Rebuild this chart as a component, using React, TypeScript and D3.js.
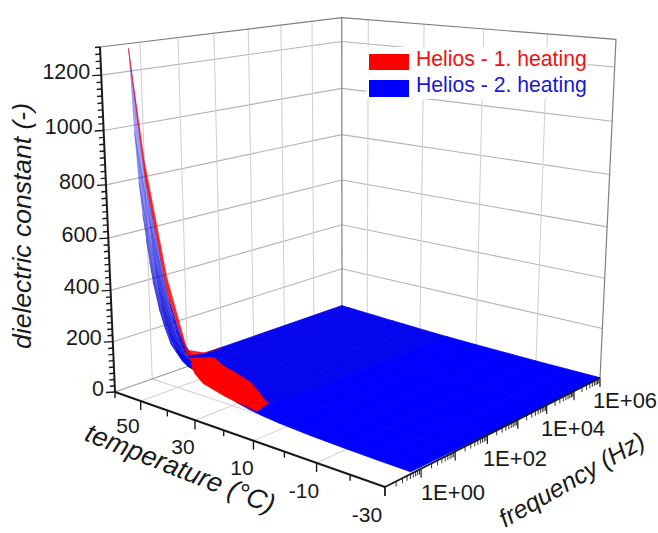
import React from 'react';
import * as d3 from 'd3';

const WIDTH = 658;
const HEIGHT = 533;

// axis ranges
const tempDomain = [60, -30];
const freqDomain = [-1, 6];
const epsDomain = [0, 1300];

const tempTicks = [60, 50, 40, 30, 20, 10, 0, -10, -20, -30];
const tempLabels = [
  { t: 50, text: '50', x: 128, y: 433 },
  { t: 30, text: '30', x: 183, y: 454 },
  { t: 10, text: '10', x: 242, y: 475 },
  { t: -10, text: '-10', x: 304, y: 498 },
  { t: -30, text: '-30', x: 367, y: 522 },
];
const freqLabels = [
  { text: '1E+00', x: 453, y: 500 },
  { text: '1E+02', x: 515, y: 466 },
  { text: '1E+04', x: 573, y: 436 },
  { text: '1E+06', x: 625, y: 408 },
];
const epsLabels = [0, 200, 400, 600, 800, 1000, 1200];

// second heating surface
const gridFreq = [-0.3, 0, 0.5, 1, 1.5, 2, 4, 6];
const gridTemp = [60, 59, 58, 57, 56, 55, 54, 52, 50, 48, 46, 43, 40, 36, 32, 28, 24, 20, 15, 10, 0, -10, -20, -30];
const heating2 = [
  [1280, 800, 320, 45, 30, 30, 30, 30],
  [980, 640, 260, 44, 30, 29, 29, 29],
  [790, 500, 210, 42, 29, 28, 28, 28],
  [670, 410, 170, 41, 28, 28, 28, 28],
  [580, 340, 140, 40, 28, 27, 27, 27],
  [495, 285, 118, 39, 28, 27, 27, 27],
  [420, 240, 100, 38, 27, 26, 26, 26],
  [320, 180, 78, 36, 26, 25, 25, 25],
  [250, 140, 64, 34, 25, 24, 24, 24],
  [195, 112, 56, 32, 24, 23, 23, 23],
  [175, 98, 50, 30, 23, 22, 22, 22],
  [165, 88, 46, 28, 22, 21, 20, 20],
  [150, 78, 42, 26, 21, 20, 19, 19],
  [110, 64, 36, 24, 20, 19, 18, 17],
  [85, 54, 32, 22, 19, 18, 16, 15],
  [65, 44, 28, 20, 17, 16, 14, 13],
  [48, 36, 24, 18, 15, 14, 12, 11],
  [38, 30, 21, 16, 14, 13, 11, 10],
  [30, 24, 18, 14, 12, 11, 9, 8],
  [24, 20, 15, 12, 10, 9, 8, 7],
  [17, 14, 11, 9, 8, 7, 6, 5],
  [13, 11, 9, 8, 7, 6, 4, 3],
  [10, 9, 8, 6, 5, 4, 3, 2],
  [8, 7, 6, 5, 4, 3, 2, 1],
];

// first heating: the part that stays above the second one
const ridgeFreq = [-0.3, 0, 0.5, 1, 1.5, 2];
const ridgeHeating1 = [1285, 860, 385, 68, 32, 30];
const blobTemp = [60, 57, 50, 44, 37, 30, 26, 22, 19];
const blobFreqStart = [1.05, 0.9, 0.4, 0.05, -0.25, -0.22, -0.2, -0.2, -0.2];
const blobFreqEnd = [1.1, 1.55, 1.3, 1.2, 1.05, 0.75, 0.55, 0.38, -0.18];
const blobEpsStart = [32, 36, 60, 72, 75, 50, 40, 36, 30];
const blobEpsEnd = [30, 20, 20, 17, 13, 14, 15, 18, 30];

// box corners on the page, used to fit the perspective
const cornerA = [115, 392];
const cornerB = [385, 487];
const cornerC = [600, 378];
const cornerD = [342, 312];
const topA = [100, 47];
const topCx = 616;

const tempScale = d3.scaleLinear().domain(tempDomain).range([0, 1]);
const freqScale = d3.scaleLinear().domain(freqDomain).range([0, 1]);
const epsScale = d3.scaleLinear().domain(epsDomain).range([0, 1]);

function fitProjection() {
  const [x0, y0] = cornerA;
  const [x1, y1] = cornerB;
  const [x2, y2] = cornerC;
  const [x3, y3] = cornerD;
  const sx = x0 - x1 + x2 - x3;
  const sy = y0 - y1 + y2 - y3;
  const dx1 = x1 - x2;
  const dx2 = x3 - x2;
  const dy1 = y1 - y2;
  const dy2 = y3 - y2;
  const den = dx1 * dy2 - dx2 * dy1;
  const g = (sx * dy2 - dx2 * sy) / den;
  const h = (dx1 * sy - sx * dy1) / den;
  const a = x1 - x0 + g * x1;
  const b = x3 - x0 + h * x3;
  const d = y1 - y0 + g * y1;
  const e = y3 - y0 + h * y3;
  const zw = (a + b + topA[0] - topCx * (g + h + 1)) / (topCx - topA[0]);
  const zx = topA[0] * (1 + zw) - x0;
  const zy = topA[1] * (1 + zw) - y0;
  return (u: number, v: number, w: number): [number, number] => {
    const q = g * u + h * v + zw * w + 1;
    return [(a * u + b * v + zx * w + x0) / q, (d * u + e * v + zy * w + y0) / q];
  };
}

const project = fitProjection();
const pt = (temp: number, logF: number, eps: number) =>
  project(tempScale(temp), freqScale(logF), epsScale(eps));
const line2 = d3.line();
const closed = (pts: [number, number][]) => line2(pts) + 'Z';
const seg = (a: [number, number], b: [number, number]) => line2([a, b]) as string;

const font = '"Liberation Sans", Arial, sans-serif';
const minorFreq = d3.range(-1, 6).flatMap((p) => d3.range(2, 10).map((m) => p + Math.log10(m)));
const majorFreq = d3.range(-1, 7);
const wallFreq = d3.range(0, 6);
const wallTemp = [50, 30, 10, -10];
const epsGrid = d3.range(200, 1300, 200);
const epsMinor = d3.range(0, 1301, 25);
const opacityScale = d3.scaleLinear().domain([60, 200, 500, 1280]).range([1, 0.9, 0.55, 0.25]).clamp(true);

function Walls() {
  const grid = '#d2d2d2';
  return (
    <g fill="none">
      {epsGrid.map((z) => (
        <path key={z} stroke="#b4b4b4" strokeWidth={1.1}
          d={(line2([pt(60, -1, z), pt(60, 6, z), pt(-30, 6, z)]) as string)} />
      ))}
      {wallFreq.map((f) => (
        <g key={f} stroke={grid} strokeWidth={1.1}>
          <path d={seg(pt(60, f, 0), pt(60, f, 1300))} />
          <path d={seg(pt(60, f, 0), pt(-30, f, 0))} />
        </g>
      ))}
      {wallTemp.map((t) => (
        <g key={t} stroke={grid} strokeWidth={1.1}>
          <path d={seg(pt(t, 6, 0), pt(t, 6, 1300))} />
          <path d={seg(pt(t, -1, 0), pt(t, 6, 0))} />
        </g>
      ))}
      <path stroke="#808080" strokeWidth={1.2}
        d={line2([pt(60, -1, 1300), pt(60, 6, 1300), pt(-30, 6, 1300), pt(-30, 6, 0)]) as string} />
      <path stroke="#808080" strokeWidth={1.2} d={seg(pt(60, 6, 0), pt(60, 6, 1300))} />
      <path stroke="#9a9a9a" strokeWidth={1.1} d={seg(pt(60, -1, 0), pt(60, 6, 0))} />
      <path stroke="#9a9a9a" strokeWidth={1.1} d={seg(pt(60, 6, 0), pt(-30, 6, 0))} />
    </g>
  );
}

function Heating2() {
  const quads: React.ReactNode[] = [];
  gridTemp.slice(0, -1).forEach((temp, i) => {
    for (let j = gridFreq.length - 2; j >= 0; j--) {
      const next = gridTemp[i + 1];
      const mean = (heating2[i][j] + heating2[i][j + 1] + heating2[i + 1][j] + heating2[i + 1][j + 1]) / 4;
      const fill = temp >= 24 ? '#0505ee' : '#0000ff';
      const op = opacityScale(mean);
      // opaque cells get a stroke so no seams show between them
      quads.push(
        <path key={`${i}-${j}`} fill={fill} fillOpacity={op} stroke={op === 1 ? fill : 'none'} strokeWidth={0.8}
          d={closed([
            pt(temp, gridFreq[j], heating2[i][j]),
            pt(temp, gridFreq[j + 1], heating2[i][j + 1]),
            pt(next, gridFreq[j + 1], heating2[i + 1][j + 1]),
            pt(next, gridFreq[j], heating2[i + 1][j]),
          ])} />,
      );
    }
    // mesh lines show on the steep part only
    if (heating2[i][0] > 300) {
      quads.push(
        <path key={`mesh-${i}`} fill="none" stroke="#14148c" strokeOpacity={0.45} strokeWidth={0.8}
          d={line2(gridFreq.slice(0, 3).map((f, j) => pt(temp, f, heating2[i][j]))) as string} />,
      );
    }
  });
  return <g>{quads}</g>;
}

function Heating1() {
  const ridge = ridgeFreq.map((f, i) => pt(60, f, ridgeHeating1[i]));
  const base = ridgeFreq.map((f, i) => pt(60, f, heating2[0][i])).reverse();
  const blob = [
    ...blobTemp.map((t, i) => pt(t, blobFreqStart[i], blobEpsStart[i])),
    ...blobTemp.map((t, i) => pt(t, blobFreqEnd[i], blobEpsEnd[i])).reverse(),
  ];
  return (
    <g fill="#ff0000" stroke="#ff0000" strokeWidth={0.6} strokeLinejoin="round">
      <path d={closed([...ridge, ...base])} fillOpacity={0.85} strokeOpacity={0.6} />
      <path d={closed(blob)} />
    </g>
  );
}

function Axes() {
  const tickDown = (p: [number, number], len: number) => seg(p, [p[0], p[1] + len]);
  return (
    <g fill="none" stroke="#1a1a1a">
      <path strokeWidth={2} d={seg(pt(60, -1, 0), pt(60, -1, 1300))} />
      {epsMinor.map((z) => {
        const p = pt(60, -1, z);
        const len = z % 200 === 0 ? 9 : 5;
        return <path key={z} strokeWidth={1.4} d={seg(p, [p[0] - len, p[1] + 0.5])} />;
      })}
      <path strokeWidth={2} d={seg(pt(60, -1, 0), pt(-30, -1, 0))} />
      {tempTicks.map((t, i) => (
        <path key={t} strokeWidth={1.4} d={tickDown(pt(t, -1, 0), i % 2 === 1 ? 9 : 6)} />
      ))}
      <path strokeWidth={1.8} d={seg(pt(-30, -1, 0), pt(-30, 6, 0))} />
      {majorFreq.map((f) => (
        <path key={f} strokeWidth={1.2} d={tickDown(pt(-30, f, 0), 9)} />
      ))}
      {minorFreq.map((f) => (
        <path key={f} strokeWidth={0.9} d={tickDown(pt(-30, f, 0), 5)} />
      ))}
    </g>
  );
}

export default function App() {
  return (
    <svg width={WIDTH} height={HEIGHT} viewBox={`0 0 ${WIDTH} ${HEIGHT}`}
      style={{ position: 'absolute', left: 0, top: 0, background: '#fff' }} fontFamily={font} fill="#1a1a1a">
      <Walls />
      <rect x={366} y={47} width={222} height={52} fill="#fff" />
      <Heating2 />
      <Heating1 />
      <Axes />

      {epsLabels.map((z) => (
        <text key={z} x={pt(60, -1, z)[0] - 11} y={pt(60, -1, z)[1] - 2} textAnchor="end" fontSize={21.5}
          dominantBaseline="middle">{z}</text>
      ))}
      {tempLabels.map((d) => (
        <text key={d.t} x={d.x} y={d.y} textAnchor="middle" fontSize={21}>{d.text}</text>
      ))}
      {freqLabels.map((d) => (
        <text key={d.text} x={d.x} y={d.y} textAnchor="middle" fontSize={22}>{d.text}</text>
      ))}

      <text transform="translate(31,226) rotate(-90)" textAnchor="middle" fontSize={26.5} fontStyle="italic">
        dielectric constant (-)
      </text>
      <text transform="translate(177,477) rotate(21.5)" textAnchor="middle" fontSize={27} fontStyle="italic">
        temperature (°C)
      </text>
      <text transform="translate(576,487) rotate(-30)" textAnchor="middle" fontSize={25} fontStyle="italic">
        frequency (Hz)
      </text>

      <rect x={369} y={54} width={40} height={16} fill="#ff0000" />
      <rect x={369} y={80} width={40} height={17} fill="#0000ff" />
      <text x={416} y={66} fontSize={21.2} fill="#f01010">Helios - 1. heating</text>
      <text x={416} y={92} fontSize={21.2} fill="#1818d8">Helios - 2. heating</text>
    </svg>
  );
}
